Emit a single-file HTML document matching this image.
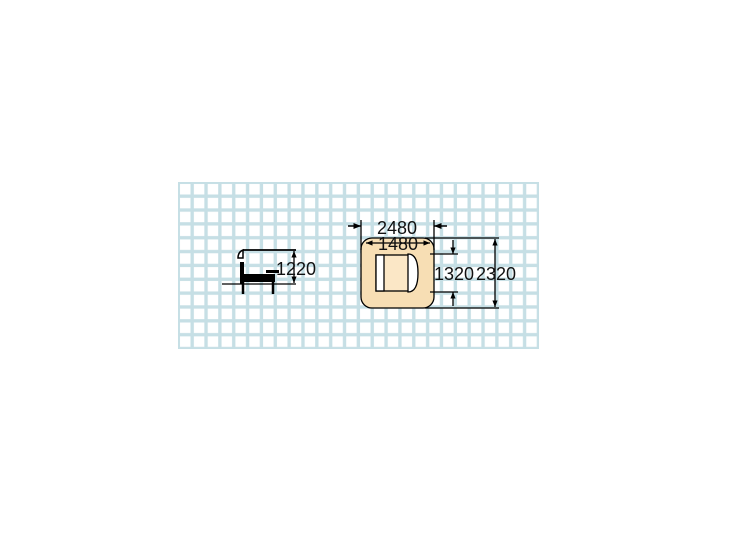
<!DOCTYPE html>
<html><head><style>
html,body{margin:0;padding:0;background:#fff;width:744px;height:558px;overflow:hidden}
svg{position:absolute;left:0;top:0}
text{font-family:"Liberation Sans",sans-serif;font-size:18px;fill:#111}
</style></head><body>
<svg width="744" height="558" viewBox="0 0 744 558">
<defs>
<pattern id="g" x="178" y="182" width="13.85" height="13.85" patternUnits="userSpaceOnUse">
<rect width="13.85" height="13.85" fill="#c6dfe5"/>
<rect x="2" y="2" width="10.5" height="10.5" fill="#fff"/>
</pattern>
<marker id="a" viewBox="0 0 10 10" refX="10" refY="5" markerWidth="5" markerHeight="5" orient="auto-start-reverse"><path d="M0,1L10,5L0,9z" fill="#000"/></marker>
</defs>
<rect x="178" y="182" width="361" height="167" fill="url(#g)"/>
<!-- side view -->
<line x1="222" y1="284" x2="296" y2="284" stroke="#000" stroke-width="1.2"/>
<line x1="243" y1="250" x2="296" y2="250" stroke="#000" stroke-width="1.8"/>
<path d="M243,250 q-5,2 -5,8 l5,0z" fill="#fff" stroke="#000" stroke-width="1.5"/>
<rect x="240" y="262" width="4" height="22" fill="#000"/>
<rect x="241" y="274" width="34" height="8" fill="#000"/>
<rect x="266" y="270" width="13" height="3" fill="#000"/>
<line x1="243" y1="280" x2="243" y2="294" stroke="#000" stroke-width="2.5"/>
<line x1="273" y1="280" x2="273" y2="294" stroke="#000" stroke-width="2.5"/>
<line x1="294" y1="251" x2="294" y2="283" stroke="#000" stroke-width="1.3" marker-start="url(#a)" marker-end="url(#a)"/>
<text x="276" y="275">1220</text>
<!-- top view -->
<rect x="361" y="238" width="73" height="70" rx="11" fill="#f7deb4" stroke="#000" stroke-width="1.3"/>
<rect x="376" y="255" width="35" height="36" fill="#fbe7c6" stroke="#000" stroke-width="1.3"/>
<rect x="376" y="255" width="8" height="36" fill="#fff" stroke="#000" stroke-width="1.3"/>
<path d="M408,254 q10,0 10,19 q0,19 -10,19z" fill="#fff" stroke="#000" stroke-width="1.3"/>
<!-- 2480 -->
<line x1="361" y1="220" x2="361" y2="250" stroke="#000" stroke-width="1.3"/>
<line x1="434" y1="220" x2="434" y2="250" stroke="#000" stroke-width="1.3"/>
<line x1="348" y1="226" x2="361" y2="226" stroke="#000" stroke-width="1.5" marker-end="url(#a)"/>
<line x1="447" y1="226" x2="434" y2="226" stroke="#000" stroke-width="1.5" marker-end="url(#a)"/>
<text x="377" y="234">2480</text>
<!-- 1480 -->
<line x1="366" y1="243" x2="430" y2="243" stroke="#000" stroke-width="1.3" marker-start="url(#a)" marker-end="url(#a)"/>
<text x="378" y="250">1480</text>
<!-- verticals -->
<line x1="425" y1="238" x2="499" y2="238" stroke="#000" stroke-width="1.3"/>
<line x1="425" y1="308" x2="499" y2="308" stroke="#000" stroke-width="1.3"/>
<line x1="430" y1="254" x2="458" y2="254" stroke="#000" stroke-width="1.3"/>
<line x1="430" y1="292" x2="458" y2="292" stroke="#000" stroke-width="1.3"/>
<line x1="453" y1="240" x2="453" y2="254" stroke="#000" stroke-width="1.3" marker-end="url(#a)"/>
<line x1="453" y1="306" x2="453" y2="292" stroke="#000" stroke-width="1.3" marker-end="url(#a)"/>
<text x="434" y="280">1320</text>
<line x1="495" y1="239" x2="495" y2="307" stroke="#000" stroke-width="1.3" marker-start="url(#a)" marker-end="url(#a)"/>
<text x="476" y="280">2320</text>
</svg>
</body></html>
